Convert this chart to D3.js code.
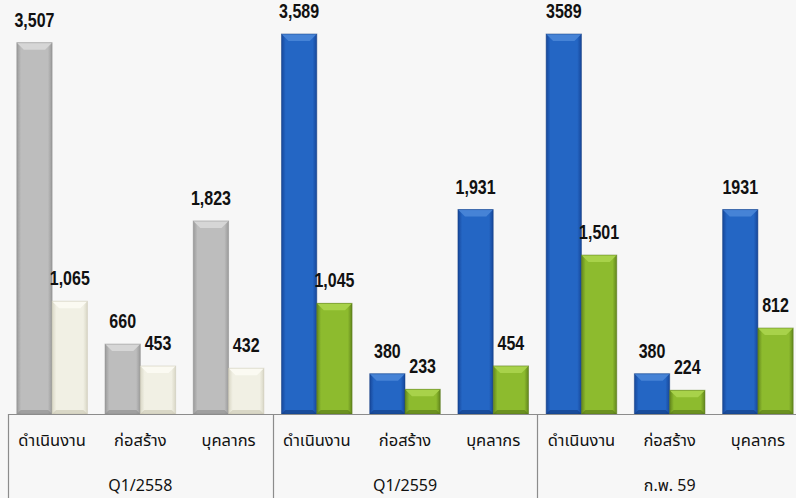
<!DOCTYPE html>
<html>
<head>
<meta charset="utf-8">
<script src="https://cdn.jsdelivr.net/npm/d3@7"></script>
<style>
  body { margin: 0; background: #f7f7f7; }
  svg { display: block; }
</style>
</head>
<body>
<div id="plot"></div>
<script>
// data
const groups = ["Q1/2558", "Q1/2559", "ก.พ. 59"];
const categories = ["ดำเนินงาน", "ก่อสร้าง", "บุคลากร"];
const series1 = [[3507, 660, 1823], [3589, 380, 1931], [3589, 380, 1931]];
const series2 = [[1065, 453, 432], [1045, 233, 454], [1501, 224, 812]];
const labels1 = [["3,507", "660", "1,823"], ["3,589", "380", "1,931"], ["3589", "380", "1931"]];
const labels2 = [["1,065", "453", "432"], ["1,045", "233", "454"], ["1,501", "224", "812"]];

const w = 796, h = 498;
const margin = {left: 8, right: -6, top: 34, bottom: 84};
const innerWidth = w - margin.left - margin.right;
const innerHeight = h - margin.top - margin.bottom;

const palettes = [
  [{mid: "#bdbdbd", edge: "#9a9a9a", light: "#d6d6d6", dark: "#8c8c8c"},
   {mid: "#f1f0e4", edge: "#d9d7c6", light: "#fbfaf2", dark: "#c9c6b2"}],
  [{mid: "#2466c4", edge: "#17479a", light: "#4683d6", dark: "#123b80"},
   {mid: "#8dbb2e", edge: "#62861c", light: "#a8d24a", dark: "#557518"}]
];

const rows = [];
groups.forEach((g, gi) => {
  categories.forEach((c, ci) => {
    const pal = palettes[gi == 0 ? 0 : 1];
    rows.push({key: gi + "-" + ci, cat: c, s: 0, v: series1[gi][ci], lab: labels1[gi][ci], pal: pal[0]});
    rows.push({key: gi + "-" + ci, cat: c, s: 1, v: series2[gi][ci], lab: labels2[gi][ci], pal: pal[1]});
  });
});

const keys = [];
groups.forEach((g, gi) => categories.forEach((c, ci) => keys.push(gi + "-" + ci)));

const xScale = d3.scaleBand().domain(keys).range([0, innerWidth]).paddingInner(0.2).paddingOuter(0.1);
const xGroup = d3.scaleBand().domain(groups).range([0, innerWidth]);
const xInner = d3.scaleBand().domain([0, 1]).range([0, xScale.bandwidth()]);
const yScale = d3.scaleLinear().domain([0, 3589]).range([innerHeight, 0]);

const svg = d3.select("div#plot").append("svg").attr("width", w).attr("height", h);

// gradients
const defs = svg.append("defs");
rows.forEach((d, i) => {
  const gr = defs.append("linearGradient").attr("id", "g" + i).attr("x1", 0).attr("x2", 1).attr("y1", 0).attr("y2", 0);
  gr.append("stop").attr("offset", "0%").attr("stop-color", d.pal.edge);
  gr.append("stop").attr("offset", "12%").attr("stop-color", d.pal.mid);
  gr.append("stop").attr("offset", "88%").attr("stop-color", d.pal.mid);
  gr.append("stop").attr("offset", "100%").attr("stop-color", d.pal.edge);
});

const plot = svg.append("g").attr("id", "plotarea")
  .attr("transform", `translate( ${margin.left}, ${margin.top} )`);

// bars
const bars = plot.append("g").attr("id", "bars").selectAll("g").data(rows).enter().append("g");
const bx = d => xScale(d.key) + xInner(d.s);
const bw = xInner.bandwidth();
const bev = 7;

bars.append("rect")
  .attr("x", bx).attr("y", d => yScale(d.v))
  .attr("width", bw).attr("height", d => innerHeight - yScale(d.v))
  .attr("fill", (d, i) => `url(#g${i})`);

// top bevel
bars.append("polygon")
  .attr("points", d => {
    const x0 = bx(d), y0 = yScale(d.v);
    return [[x0, y0], [x0 + bw, y0], [x0 + bw - bev, y0 + bev], [x0 + bev, y0 + bev]].join(" ");
  })
  .attr("fill", d => d.pal.light);

// bottom bevel
bars.append("polygon")
  .attr("points", d => {
    const x0 = bx(d), y0 = innerHeight;
    return [[x0, y0], [x0 + bw, y0], [x0 + bw - 4, y0 - 4], [x0 + 4, y0 - 4]].join(" ");
  })
  .attr("fill", d => d.pal.dark).attr("opacity", 0.6);

bars.append("rect")
  .attr("x", bx).attr("y", d => yScale(d.v))
  .attr("width", bw).attr("height", d => innerHeight - yScale(d.v))
  .attr("fill", "none").attr("stroke", d => d.pal.dark).attr("stroke-opacity", 0.5).attr("stroke-width", 1);

// value labels (condensed bold)
bars.append("text")
  .attr("transform", d => `translate(${bx(d) + bw / 2}, ${yScale(d.v) - 16}) scale(0.8, 1)`)
  .attr("text-anchor", "middle")
  .style("font-family", "'Liberation Sans', Arial, sans-serif")
  .style("font-weight", "bold")
  .style("font-size", "20px")
  .style("fill", "#111")
  .text(d => d.lab);

// axis line and separators
const axis = plot.append("g").attr("id", "xaxis");
axis.append("line")
  .attr("x1", 0).attr("x2", innerWidth)
  .attr("y1", innerHeight + 0.5).attr("y2", innerHeight + 0.5)
  .attr("stroke", "#8c8c8c").attr("stroke-width", 1.2);

axis.selectAll("line.sep").data(groups).enter().append("line")
  .attr("class", "sep")
  .attr("x1", d => Math.round(xGroup(d)) + 0.5).attr("x2", d => Math.round(xGroup(d)) + 0.5)
  .attr("y1", innerHeight).attr("y2", h)
  .attr("stroke", "#8c8c8c").attr("stroke-width", 1.2);

const thai = "'Noto Sans Thai', 'Noto Sans Thai UI', Loma, Garuda, 'Tlwg Typist', 'DejaVu Sans', sans-serif";

axis.selectAll("text.cat").data(keys).enter().append("text")
  .attr("class", "cat")
  .attr("x", d => xScale(d) + xScale.bandwidth() / 2)
  .attr("y", innerHeight + 32)
  .attr("text-anchor", "middle")
  .style("font-family", thai)
  .style("font-size", "16.5px")
  .style("fill", "#111")
  .text(d => categories[+d.split("-")[1]]);

axis.selectAll("text.grp").data(groups).enter().append("text")
  .attr("class", "grp")
  .attr("x", d => xGroup(d) + xGroup.bandwidth() / 2)
  .attr("y", innerHeight + 77)
  .attr("text-anchor", "middle")
  .style("font-family", thai)
  .style("font-size", "16px")
  .style("fill", "#111")
  .text(d => d);
</script>
</body>
</html>
